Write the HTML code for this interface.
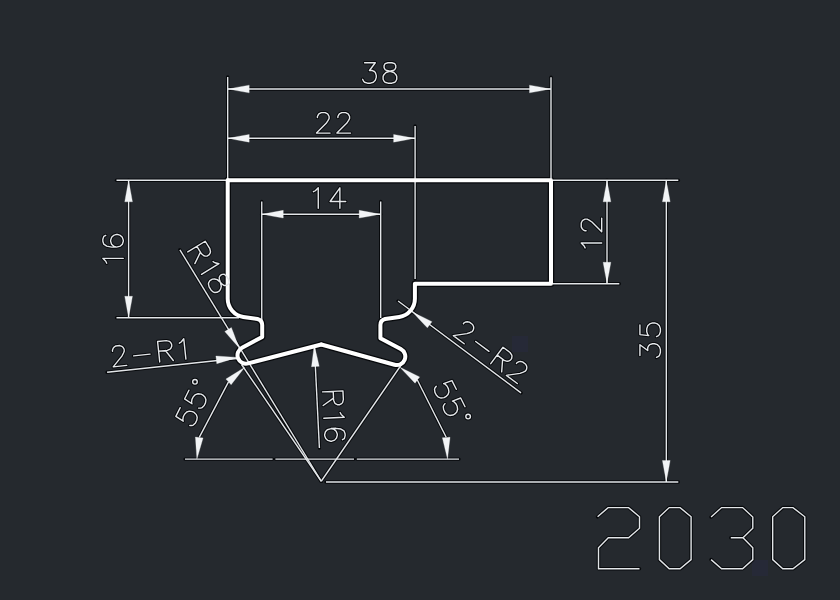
<!DOCTYPE html>
<html><head><meta charset="utf-8"><style>
html,body{margin:0;padding:0;background:#25292e;}
svg{display:block;}
</style></head><body>
<svg width="840" height="600" viewBox="0 0 840 600">
<rect width="840" height="600" fill="#25292e"/>
<rect x="512" y="336" width="16" height="16" fill="#262937"/>
<rect x="752" y="560" width="16" height="16" fill="#262937"/>
<g stroke="#07090c" fill="none" stroke-linecap="round" stroke-linejoin="round">
<g stroke-width="3.4"><line x1="227.70" y1="77.00" x2="227.70" y2="180.30"/>
<line x1="551.00" y1="77.30" x2="551.00" y2="180.30"/>
<line x1="227.70" y1="89.00" x2="551.00" y2="89.00"/>
<line x1="415.10" y1="126.00" x2="415.10" y2="279.00"/>
<line x1="227.70" y1="138.30" x2="415.10" y2="138.30"/>
<line x1="261.75" y1="201.50" x2="261.75" y2="320.00"/>
<line x1="380.70" y1="201.50" x2="380.70" y2="318.00"/>
<line x1="261.75" y1="214.20" x2="380.70" y2="214.20"/>
<line x1="116.50" y1="180.30" x2="226.00" y2="180.30"/>
<line x1="116.50" y1="317.80" x2="239.00" y2="317.80"/>
<line x1="128.60" y1="180.30" x2="128.60" y2="317.80"/>
<line x1="553.00" y1="180.30" x2="678.30" y2="180.30"/>
<line x1="553.00" y1="283.80" x2="619.30" y2="283.80"/>
<line x1="607.00" y1="180.30" x2="607.00" y2="283.80"/>
<line x1="326.00" y1="482.00" x2="678.30" y2="482.00"/>
<line x1="666.30" y1="180.30" x2="666.30" y2="482.00"/>
<line x1="179.90" y1="249.80" x2="321.25" y2="481.25"/>
<line x1="107.10" y1="372.20" x2="239.00" y2="358.30"/>
<line x1="398.10" y1="301.00" x2="521.00" y2="392.90"/>
<line x1="321.25" y1="481.25" x2="241.50" y2="364.50"/>
<line x1="321.25" y1="481.25" x2="401.50" y2="364.50"/>
<line x1="185.00" y1="459.10" x2="272.60" y2="459.10"/>
<line x1="275.40" y1="459.10" x2="354.00" y2="459.10"/>
<line x1="356.80" y1="459.10" x2="459.00" y2="459.10"/>
<line x1="199.25" y1="437.30" x2="228.50" y2="381.90"/>
<line x1="417.30" y1="380.00" x2="446.20" y2="437.20"/>
<line x1="314.30" y1="345.00" x2="319.40" y2="448.00"/></g>
<g stroke-width="3.4"><path d="M364.57,62.73 L375.30,62.73 L369.45,70.53 L372.38,70.53 L374.32,71.50 L375.30,72.48 L376.27,75.40 L376.27,77.35 L375.30,80.28 L373.35,82.23 L370.43,83.20 L367.50,83.20 L364.57,82.23 L363.60,81.25 L362.62,79.30"/>
<path d="M387.98,62.73 L385.05,63.70 L384.07,65.65 L384.07,67.60 L385.05,69.55 L387.00,70.53 L390.90,71.50 L393.82,72.48 L395.78,74.42 L396.75,76.38 L396.75,79.30 L395.78,81.25 L394.80,82.23 L391.88,83.20 L387.98,83.20 L385.05,82.23 L384.07,81.25 L383.10,79.30 L383.10,76.38 L384.07,74.42 L386.03,72.48 L388.95,71.50 L392.85,70.53 L394.80,69.55 L395.78,67.60 L395.78,65.65 L394.80,63.70 L391.88,62.73 L387.98,62.73"/>
<path d="M317.40,117.50 L317.40,116.52 L318.38,114.57 L319.35,113.60 L321.30,112.62 L325.20,112.62 L327.15,113.60 L328.12,114.57 L329.10,116.52 L329.10,118.47 L328.12,120.42 L326.18,123.35 L316.43,133.10 L330.07,133.10"/>
<path d="M337.88,117.50 L337.88,116.52 L338.85,114.57 L339.83,113.60 L341.78,112.62 L345.68,112.62 L347.62,113.60 L348.60,114.57 L349.58,116.52 L349.58,118.47 L348.60,120.42 L346.65,123.35 L336.90,133.10 L350.55,133.10"/>
<path d="M313.38,191.73 L315.32,190.75 L318.25,187.83 L318.25,208.30"/>
<path d="M339.88,187.83 L330.12,201.48 L345.72,201.48 M339.88,187.83 L339.88,208.30"/>
<path d="M106.72,263.23 L105.75,261.28 L102.83,258.35 L123.30,258.35"/>
<path d="M105.75,235.40 L103.80,236.38 L102.83,239.30 L102.83,241.25 L103.80,244.18 L106.72,246.12 L111.60,247.10 L116.47,247.10 L120.38,246.12 L122.33,244.18 L123.30,241.25 L123.30,240.28 L122.33,237.35 L120.38,235.40 L117.45,234.43 L116.47,234.43 L113.55,235.40 L111.60,237.35 L110.62,240.28 L110.62,241.25 L111.60,244.18 L113.55,246.12 L116.47,247.10"/>
<path d="M585.12,247.93 L584.15,245.98 L581.23,243.05 L601.70,243.05"/>
<path d="M586.10,230.80 L585.12,230.80 L583.18,229.82 L582.20,228.85 L581.23,226.90 L581.23,223.00 L582.20,221.05 L583.18,220.07 L585.12,219.10 L587.08,219.10 L589.03,220.07 L591.95,222.02 L601.70,231.77 L601.70,218.12"/>
<path d="M639.92,355.43 L639.92,344.70 L647.73,350.55 L647.73,347.62 L648.70,345.68 L649.67,344.70 L652.60,343.73 L654.55,343.73 L657.48,344.70 L659.42,346.65 L660.40,349.57 L660.40,352.50 L659.42,355.43 L658.45,356.40 L656.50,357.38"/>
<path d="M639.92,324.88 L639.92,334.62 L648.70,335.60 L647.73,334.62 L646.75,331.70 L646.75,328.77 L647.73,325.85 L649.67,323.90 L652.60,322.93 L654.55,322.93 L657.48,323.90 L659.42,325.85 L660.40,328.77 L660.40,331.70 L659.42,334.62 L658.45,335.60 L656.50,336.57"/>
<path d="M205.23,241.24 L187.75,251.92 M205.23,241.24 L209.80,248.73 L210.49,251.74 L210.17,253.08 L209.01,254.93 L207.35,255.94 L205.18,256.13 L203.84,255.80 L201.48,253.82 L196.91,246.33 M200.46,252.15 L194.87,263.57"/>
<path d="M213.08,261.58 L214.93,262.74 L218.95,263.71 L201.48,274.38"/>
<path d="M226.57,276.19 L224.22,274.20 L222.04,274.39 L220.38,275.41 L219.22,277.25 L219.41,279.43 L220.61,283.26 L221.30,286.27 L220.65,288.95 L219.50,290.80 L217.00,292.32 L214.83,292.50 L213.49,292.18 L211.13,290.19 L209.10,286.86 L208.41,283.86 L208.73,282.52 L209.89,280.67 L212.38,279.15 L214.55,278.96 L217.23,279.61 L219.59,281.60 L222.46,284.42 L224.30,285.57 L226.48,285.39 L228.14,284.37 L229.30,282.53 L228.60,279.52 L226.57,276.19"/>
<path d="M112.53,351.22 L112.43,350.25 L113.19,348.20 L114.06,347.13 L115.90,345.96 L119.78,345.55 L121.82,346.31 L122.89,347.18 L124.06,349.02 L124.27,350.96 L123.50,353.00 L121.87,356.11 L113.20,366.83 L126.77,365.40"/>
<path d="M133.61,355.86 L150.09,354.12"/>
<path d="M157.59,341.56 L159.74,361.93 M157.59,341.56 L166.32,340.64 L169.33,341.31 L170.40,342.18 L171.58,344.01 L171.78,345.95 L171.02,347.99 L170.15,349.07 L167.34,350.34 L158.61,351.26 M165.40,350.55 L173.31,360.50"/>
<path d="M179.33,343.20 L181.17,342.02 L183.77,338.81 L185.92,359.17"/>
<path d="M463.39,323.73 L463.98,322.95 L465.93,321.97 L467.29,321.77 L469.44,322.16 L472.56,324.49 L473.54,326.44 L473.73,327.81 L473.35,329.95 L472.18,331.51 L470.23,332.49 L466.92,333.67 L453.27,335.64 L464.20,343.81"/>
<path d="M475.70,341.45 L488.98,351.38"/>
<path d="M503.01,347.26 L490.75,363.66 M503.01,347.26 L510.04,352.52 L511.80,355.05 L511.99,356.42 L511.61,358.56 L510.44,360.12 L508.49,361.10 L507.13,361.30 L504.20,360.33 L497.17,355.07 M502.64,359.16 L501.68,371.84"/>
<path d="M516.49,363.43 L517.07,362.65 L519.02,361.67 L520.39,361.47 L522.53,361.86 L525.66,364.20 L526.63,366.15 L526.83,367.51 L526.44,369.66 L525.28,371.22 L523.33,372.20 L520.01,373.37 L506.37,375.34 L517.30,383.51"/>
<path d="M180.21,407.65 L175.84,416.37 L183.25,421.17 L182.82,419.86 L183.25,416.81 L184.56,414.19 L186.74,412.01 L189.36,411.14 L192.41,411.58 L194.16,412.45 L196.34,414.63 L197.21,417.25 L196.77,420.30 L195.46,422.92 L193.28,425.10 L191.97,425.53 L189.79,425.53"/>
<path d="M188.93,390.23 L184.56,398.95 L191.97,403.75 L191.54,402.44 L191.97,399.39 L193.28,396.78 L195.46,394.60 L198.08,393.73 L201.13,394.17 L202.88,395.04 L205.06,397.22 L205.93,399.84 L205.49,402.89 L204.18,405.50 L202.00,407.68 L200.69,408.12 L198.51,408.12"/>
<circle cx="194.98" cy="381.84" r="2.3"/>
<path d="M456.31,389.31 L451.95,380.59 L443.66,383.65 L444.97,384.08 L447.15,386.26 L448.46,388.87 L448.90,391.93 L448.03,394.54 L445.85,396.72 L444.11,397.60 L441.06,398.04 L438.44,397.17 L436.26,394.99 L434.95,392.37 L434.51,389.32 L434.94,388.01 L436.25,386.27"/>
<path d="M465.03,406.72 L460.67,398.00 L452.38,401.06 L453.69,401.49 L455.87,403.67 L457.18,406.29 L457.62,409.34 L456.75,411.96 L454.57,414.14 L452.83,415.01 L449.78,415.45 L447.16,414.58 L444.98,412.40 L443.67,409.78 L443.23,406.73 L443.66,405.42 L444.97,403.68"/>
<circle cx="468.12" cy="416.59" r="2.3"/>
<path d="M342.94,390.88 L322.49,391.90 M342.94,390.88 L343.38,399.65 L342.55,402.62 L341.62,403.64 L339.72,404.71 L337.78,404.81 L335.78,403.93 L334.76,403.00 L333.64,400.13 L333.20,391.36 M333.54,398.18 L323.17,405.53"/>
<path d="M340.11,412.50 L341.18,414.40 L344.24,417.18 L323.79,418.19"/>
<path d="M342.43,439.72 L344.33,438.65 L345.16,435.68 L345.06,433.73 L343.95,430.86 L340.93,429.05 L336.01,428.32 L331.14,428.56 L327.29,429.73 L325.44,431.77 L324.61,434.74 L324.66,435.72 L325.78,438.59 L327.83,440.44 L330.79,441.27 L331.77,441.22 L334.64,440.10 L336.49,438.06 L337.32,435.09 L337.27,434.12 L336.16,431.24 L334.11,429.39 L331.14,428.56"/></g>
<g stroke-width="3.5"><path d="M597.6,516.8 L608.1,507.6 L628.6,507.6 L639.5,516.8 L639.5,528.2 L628.6,537.7 L608.3,537.7 L598.5,547.8 L598.5,568.8 L639.5,568.8"/>
<path d="M669.2,507.6 L680.1,507.6 L691.1,516.8 L691.1,559.6 L680.1,568.8 L669.2,568.8 L659.4,559.6 L659.4,516.8 Z"/>
<path d="M711.1,517 L721.6,507.6 L742.6,507.6 L752.8,517 L752.8,528.2 L743,537.7 L752.8,547.8 L752.8,559.6 L742.6,568.8 L721.6,568.8 L711.1,559.6 M730.8,537.7 L743,537.7"/>
<path d="M782.8,507.6 L793,507.6 L804.8,516.8 L804.8,559.6 L793,568.8 L782.8,568.8 L772.7,559.6 L772.7,516.8 Z"/></g>
<g stroke-width="6.6"><path d="M 321.3,344.5 L 248.13,363.43 A 8.5 8.5 0 0 1 242.02,347.69 L 262.20,337.0 L 262.20,325 Q 262.20,320.3 257.50,319.0 L 243.32,316.90 A 18.3 18.3 0 0 1 227.70,298.8 L 227.70,180.3"/>
<path d="M 321.3,344.5 L 394.53,364.79 A 8.5 8.5 0 0 0 400.78,349.09 L 380.40,338.3 L 380.40,325 Q 380.40,320.3 385.10,319.0 L 399.28,316.90 A 18.3 18.3 0 0 0 414.90,298.8 L 414.90,283.8 L 551.0,283.8 L 551.0,180.3 L 227.7,180.3"/></g>
</g>
<g stroke="#e2e5e8" stroke-width="1.4" fill="none">
<line x1="227.70" y1="77.00" x2="227.70" y2="180.30"/>
<line x1="551.00" y1="77.30" x2="551.00" y2="180.30"/>
<line x1="227.70" y1="89.00" x2="551.00" y2="89.00"/>
<line x1="415.10" y1="126.00" x2="415.10" y2="279.00"/>
<line x1="227.70" y1="138.30" x2="415.10" y2="138.30"/>
<line x1="261.75" y1="201.50" x2="261.75" y2="320.00"/>
<line x1="380.70" y1="201.50" x2="380.70" y2="318.00"/>
<line x1="261.75" y1="214.20" x2="380.70" y2="214.20"/>
<line x1="116.50" y1="180.30" x2="226.00" y2="180.30"/>
<line x1="116.50" y1="317.80" x2="239.00" y2="317.80"/>
<line x1="128.60" y1="180.30" x2="128.60" y2="317.80"/>
<line x1="553.00" y1="180.30" x2="678.30" y2="180.30"/>
<line x1="553.00" y1="283.80" x2="619.30" y2="283.80"/>
<line x1="607.00" y1="180.30" x2="607.00" y2="283.80"/>
<line x1="326.00" y1="482.00" x2="678.30" y2="482.00"/>
<line x1="666.30" y1="180.30" x2="666.30" y2="482.00"/>
<line x1="179.90" y1="249.80" x2="321.25" y2="481.25"/>
<line x1="107.10" y1="372.20" x2="239.00" y2="358.30"/>
<line x1="398.10" y1="301.00" x2="521.00" y2="392.90"/>
<line x1="321.25" y1="481.25" x2="241.50" y2="364.50"/>
<line x1="321.25" y1="481.25" x2="401.50" y2="364.50"/>
<line x1="185.00" y1="459.10" x2="272.60" y2="459.10"/>
<line x1="275.40" y1="459.10" x2="354.00" y2="459.10"/>
<line x1="356.80" y1="459.10" x2="459.00" y2="459.10"/>
<line x1="199.25" y1="437.30" x2="228.50" y2="381.90"/>
<line x1="417.30" y1="380.00" x2="446.20" y2="437.20"/>
<line x1="314.30" y1="345.00" x2="319.40" y2="448.00"/>
</g>
<g fill="#f2f4f6" stroke="#f2f4f6" stroke-width="0.3">
<polygon points="227.70,89.00 249.20,85.15 249.20,92.85"/>
<polygon points="551.00,89.00 529.50,92.85 529.50,85.15"/>
<polygon points="227.70,138.30 249.20,134.45 249.20,142.15"/>
<polygon points="415.10,138.30 393.60,142.15 393.60,134.45"/>
<polygon points="261.75,214.20 283.25,210.35 283.25,218.05"/>
<polygon points="380.70,214.20 359.20,218.05 359.20,210.35"/>
<polygon points="128.60,180.30 132.45,201.80 124.75,201.80"/>
<polygon points="128.60,317.80 124.75,296.30 132.45,296.30"/>
<polygon points="607.00,180.30 610.85,201.80 603.15,201.80"/>
<polygon points="607.00,283.80 603.15,262.30 610.85,262.30"/>
<polygon points="666.30,180.30 670.15,201.80 662.45,201.80"/>
<polygon points="666.30,482.00 662.45,460.50 670.15,460.50"/>
<polygon points="239.20,348.00 224.79,331.59 231.38,327.61"/>
<polygon points="237.70,357.40 216.77,363.65 215.90,356.00"/>
<polygon points="412.40,311.90 431.94,321.67 427.33,327.84"/>
<polygon points="244.50,367.50 231.09,384.74 225.94,379.02"/>
<polygon points="196.90,458.90 195.40,437.11 203.05,437.94"/>
<polygon points="400.00,367.30 419.61,376.92 415.05,383.13"/>
<polygon points="447.50,459.00 442.38,437.77 450.06,437.31"/>
<polygon points="314.30,345.00 319.20,366.28 311.51,366.66"/>
</g>
<g stroke="#ffffff" stroke-width="4.0" fill="none" stroke-linejoin="round" stroke-linecap="round">
<path d="M 321.3,344.5 L 248.13,363.43 A 8.5 8.5 0 0 1 242.02,347.69 L 262.20,337.0 L 262.20,325 Q 262.20,320.3 257.50,319.0 L 243.32,316.90 A 18.3 18.3 0 0 1 227.70,298.8 L 227.70,180.3"/>
<path d="M 321.3,344.5 L 394.53,364.79 A 8.5 8.5 0 0 0 400.78,349.09 L 380.40,338.3 L 380.40,325 Q 380.40,320.3 385.10,319.0 L 399.28,316.90 A 18.3 18.3 0 0 0 414.90,298.8 L 414.90,283.8 L 551.0,283.8 L 551.0,180.3 L 227.7,180.3"/>
</g>
<g stroke="#e4e7ea" stroke-width="1.4" fill="none" stroke-linecap="round" stroke-linejoin="round">
<path d="M364.57,62.73 L375.30,62.73 L369.45,70.53 L372.38,70.53 L374.32,71.50 L375.30,72.48 L376.27,75.40 L376.27,77.35 L375.30,80.28 L373.35,82.23 L370.43,83.20 L367.50,83.20 L364.57,82.23 L363.60,81.25 L362.62,79.30"/>
<path d="M387.98,62.73 L385.05,63.70 L384.07,65.65 L384.07,67.60 L385.05,69.55 L387.00,70.53 L390.90,71.50 L393.82,72.48 L395.78,74.42 L396.75,76.38 L396.75,79.30 L395.78,81.25 L394.80,82.23 L391.88,83.20 L387.98,83.20 L385.05,82.23 L384.07,81.25 L383.10,79.30 L383.10,76.38 L384.07,74.42 L386.03,72.48 L388.95,71.50 L392.85,70.53 L394.80,69.55 L395.78,67.60 L395.78,65.65 L394.80,63.70 L391.88,62.73 L387.98,62.73"/>
<path d="M317.40,117.50 L317.40,116.52 L318.38,114.57 L319.35,113.60 L321.30,112.62 L325.20,112.62 L327.15,113.60 L328.12,114.57 L329.10,116.52 L329.10,118.47 L328.12,120.42 L326.18,123.35 L316.43,133.10 L330.07,133.10"/>
<path d="M337.88,117.50 L337.88,116.52 L338.85,114.57 L339.83,113.60 L341.78,112.62 L345.68,112.62 L347.62,113.60 L348.60,114.57 L349.58,116.52 L349.58,118.47 L348.60,120.42 L346.65,123.35 L336.90,133.10 L350.55,133.10"/>
<path d="M313.38,191.73 L315.32,190.75 L318.25,187.83 L318.25,208.30"/>
<path d="M339.88,187.83 L330.12,201.48 L345.72,201.48 M339.88,187.83 L339.88,208.30"/>
<path d="M106.72,263.23 L105.75,261.28 L102.83,258.35 L123.30,258.35"/>
<path d="M105.75,235.40 L103.80,236.38 L102.83,239.30 L102.83,241.25 L103.80,244.18 L106.72,246.12 L111.60,247.10 L116.47,247.10 L120.38,246.12 L122.33,244.18 L123.30,241.25 L123.30,240.28 L122.33,237.35 L120.38,235.40 L117.45,234.43 L116.47,234.43 L113.55,235.40 L111.60,237.35 L110.62,240.28 L110.62,241.25 L111.60,244.18 L113.55,246.12 L116.47,247.10"/>
<path d="M585.12,247.93 L584.15,245.98 L581.23,243.05 L601.70,243.05"/>
<path d="M586.10,230.80 L585.12,230.80 L583.18,229.82 L582.20,228.85 L581.23,226.90 L581.23,223.00 L582.20,221.05 L583.18,220.07 L585.12,219.10 L587.08,219.10 L589.03,220.07 L591.95,222.02 L601.70,231.77 L601.70,218.12"/>
<path d="M639.92,355.43 L639.92,344.70 L647.73,350.55 L647.73,347.62 L648.70,345.68 L649.67,344.70 L652.60,343.73 L654.55,343.73 L657.48,344.70 L659.42,346.65 L660.40,349.57 L660.40,352.50 L659.42,355.43 L658.45,356.40 L656.50,357.38"/>
<path d="M639.92,324.88 L639.92,334.62 L648.70,335.60 L647.73,334.62 L646.75,331.70 L646.75,328.77 L647.73,325.85 L649.67,323.90 L652.60,322.93 L654.55,322.93 L657.48,323.90 L659.42,325.85 L660.40,328.77 L660.40,331.70 L659.42,334.62 L658.45,335.60 L656.50,336.57"/>
<path d="M205.23,241.24 L187.75,251.92 M205.23,241.24 L209.80,248.73 L210.49,251.74 L210.17,253.08 L209.01,254.93 L207.35,255.94 L205.18,256.13 L203.84,255.80 L201.48,253.82 L196.91,246.33 M200.46,252.15 L194.87,263.57"/>
<path d="M213.08,261.58 L214.93,262.74 L218.95,263.71 L201.48,274.38"/>
<path d="M226.57,276.19 L224.22,274.20 L222.04,274.39 L220.38,275.41 L219.22,277.25 L219.41,279.43 L220.61,283.26 L221.30,286.27 L220.65,288.95 L219.50,290.80 L217.00,292.32 L214.83,292.50 L213.49,292.18 L211.13,290.19 L209.10,286.86 L208.41,283.86 L208.73,282.52 L209.89,280.67 L212.38,279.15 L214.55,278.96 L217.23,279.61 L219.59,281.60 L222.46,284.42 L224.30,285.57 L226.48,285.39 L228.14,284.37 L229.30,282.53 L228.60,279.52 L226.57,276.19"/>
<path d="M112.53,351.22 L112.43,350.25 L113.19,348.20 L114.06,347.13 L115.90,345.96 L119.78,345.55 L121.82,346.31 L122.89,347.18 L124.06,349.02 L124.27,350.96 L123.50,353.00 L121.87,356.11 L113.20,366.83 L126.77,365.40"/>
<path d="M133.61,355.86 L150.09,354.12"/>
<path d="M157.59,341.56 L159.74,361.93 M157.59,341.56 L166.32,340.64 L169.33,341.31 L170.40,342.18 L171.58,344.01 L171.78,345.95 L171.02,347.99 L170.15,349.07 L167.34,350.34 L158.61,351.26 M165.40,350.55 L173.31,360.50"/>
<path d="M179.33,343.20 L181.17,342.02 L183.77,338.81 L185.92,359.17"/>
<path d="M463.39,323.73 L463.98,322.95 L465.93,321.97 L467.29,321.77 L469.44,322.16 L472.56,324.49 L473.54,326.44 L473.73,327.81 L473.35,329.95 L472.18,331.51 L470.23,332.49 L466.92,333.67 L453.27,335.64 L464.20,343.81"/>
<path d="M475.70,341.45 L488.98,351.38"/>
<path d="M503.01,347.26 L490.75,363.66 M503.01,347.26 L510.04,352.52 L511.80,355.05 L511.99,356.42 L511.61,358.56 L510.44,360.12 L508.49,361.10 L507.13,361.30 L504.20,360.33 L497.17,355.07 M502.64,359.16 L501.68,371.84"/>
<path d="M516.49,363.43 L517.07,362.65 L519.02,361.67 L520.39,361.47 L522.53,361.86 L525.66,364.20 L526.63,366.15 L526.83,367.51 L526.44,369.66 L525.28,371.22 L523.33,372.20 L520.01,373.37 L506.37,375.34 L517.30,383.51"/>
<path d="M180.21,407.65 L175.84,416.37 L183.25,421.17 L182.82,419.86 L183.25,416.81 L184.56,414.19 L186.74,412.01 L189.36,411.14 L192.41,411.58 L194.16,412.45 L196.34,414.63 L197.21,417.25 L196.77,420.30 L195.46,422.92 L193.28,425.10 L191.97,425.53 L189.79,425.53"/>
<path d="M188.93,390.23 L184.56,398.95 L191.97,403.75 L191.54,402.44 L191.97,399.39 L193.28,396.78 L195.46,394.60 L198.08,393.73 L201.13,394.17 L202.88,395.04 L205.06,397.22 L205.93,399.84 L205.49,402.89 L204.18,405.50 L202.00,407.68 L200.69,408.12 L198.51,408.12"/>
<circle cx="194.98" cy="381.84" r="2.3"/>
<path d="M456.31,389.31 L451.95,380.59 L443.66,383.65 L444.97,384.08 L447.15,386.26 L448.46,388.87 L448.90,391.93 L448.03,394.54 L445.85,396.72 L444.11,397.60 L441.06,398.04 L438.44,397.17 L436.26,394.99 L434.95,392.37 L434.51,389.32 L434.94,388.01 L436.25,386.27"/>
<path d="M465.03,406.72 L460.67,398.00 L452.38,401.06 L453.69,401.49 L455.87,403.67 L457.18,406.29 L457.62,409.34 L456.75,411.96 L454.57,414.14 L452.83,415.01 L449.78,415.45 L447.16,414.58 L444.98,412.40 L443.67,409.78 L443.23,406.73 L443.66,405.42 L444.97,403.68"/>
<circle cx="468.12" cy="416.59" r="2.3"/>
<path d="M342.94,390.88 L322.49,391.90 M342.94,390.88 L343.38,399.65 L342.55,402.62 L341.62,403.64 L339.72,404.71 L337.78,404.81 L335.78,403.93 L334.76,403.00 L333.64,400.13 L333.20,391.36 M333.54,398.18 L323.17,405.53"/>
<path d="M340.11,412.50 L341.18,414.40 L344.24,417.18 L323.79,418.19"/>
<path d="M342.43,439.72 L344.33,438.65 L345.16,435.68 L345.06,433.73 L343.95,430.86 L340.93,429.05 L336.01,428.32 L331.14,428.56 L327.29,429.73 L325.44,431.77 L324.61,434.74 L324.66,435.72 L325.78,438.59 L327.83,440.44 L330.79,441.27 L331.77,441.22 L334.64,440.10 L336.49,438.06 L337.32,435.09 L337.27,434.12 L336.16,431.24 L334.11,429.39 L331.14,428.56"/>
</g>
<g stroke="#e2e5e8" stroke-width="1.4" fill="none" stroke-linejoin="miter">
<path d="M597.6,516.8 L608.1,507.6 L628.6,507.6 L639.5,516.8 L639.5,528.2 L628.6,537.7 L608.3,537.7 L598.5,547.8 L598.5,568.8 L639.5,568.8"/>
<path d="M669.2,507.6 L680.1,507.6 L691.1,516.8 L691.1,559.6 L680.1,568.8 L669.2,568.8 L659.4,559.6 L659.4,516.8 Z"/>
<path d="M711.1,517 L721.6,507.6 L742.6,507.6 L752.8,517 L752.8,528.2 L743,537.7 L752.8,547.8 L752.8,559.6 L742.6,568.8 L721.6,568.8 L711.1,559.6 M730.8,537.7 L743,537.7"/>
<path d="M782.8,507.6 L793,507.6 L804.8,516.8 L804.8,559.6 L793,568.8 L782.8,568.8 L772.7,559.6 L772.7,516.8 Z"/>
</g>
</svg>
</body></html>
